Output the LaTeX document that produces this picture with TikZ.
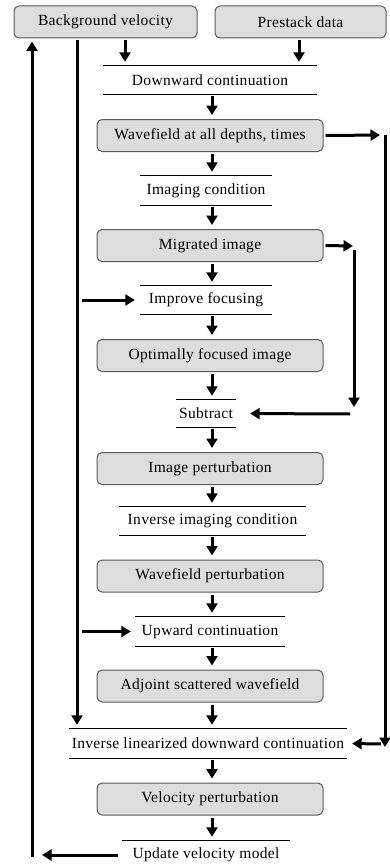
\documentclass[tikz,border=0pt]{standalone}
\usepackage{fontspec}
\setmainfont{Liberation Serif}[LetterSpace=2]
\usepackage{xcolor}
\usetikzlibrary{arrows.meta}
\definecolor{boxfill}{HTML}{DDDDDD}
\definecolor{boxline}{HTML}{5A5A5A}

\begin{document}
\begin{tikzpicture}[x=1pt, y=-1pt,
    font=\rmfamily\fontsize{15.5}{18}\selectfont,
    box/.style={rectangle, draw=boxline, fill=boxfill, line width=1pt, rounded corners=5pt, minimum width=226pt, minimum height=32pt, inner sep=0pt},
    stage/.style={rectangle, minimum height=28pt, inner sep=0pt},
    arrow/.style={line width=3pt, -{Triangle[length=9.5pt,width=11pt]}, shorten <=2pt, shorten >=4pt},
    rule/.style={line width=0.9pt}]
    \useasboundingbox (0,0) rectangle (389,867);

    % input boxes
    \node [box, minimum width=183pt] (bgvel) at (105.5,22) {Background velocity};
    \node [box, minimum width=171pt] (prestack) at (300.5,22) {Prestack data};

    % steps and results
    \node [stage, minimum width=214pt] (down) at (210,80) {Downward continuation};
    \node [box] (wfall) at (210,135.5) {Wavefield at all depths, times};
    \node [stage, minimum width=132pt, minimum height=29pt] (imcond) at (206,190.5) {Imaging condition};
    \node [box] (migimg) at (210,245.5) {Migrated image};
    \node [stage, minimum width=132pt] (impfoc) at (206,300) {Improve focusing};
    \node [box] (optimg) at (210,355.5) {Optimally focused image};
    \node [stage, minimum width=60pt, minimum height=27pt] (subtr) at (206,413.5) {Subtract};
    \node [box] (impert) at (210,468.5) {Image perturbation};
    \node [stage, minimum width=187pt] (invimg) at (212.5,521) {Inverse imaging condition};
    \node [box] (wfpert) at (210,576) {Wavefield perturbation};
    \node [stage, minimum width=150pt, minimum height=29pt] (upward) at (210,631.5) {Upward continuation};
    \node [box] (adjoint) at (210,686) {Adjoint scattered wavefield};
    \node [stage, minimum width=278pt, minimum height=29pt] (invlin) at (208,743.5) {Inverse linearized downward continuation};
    \node [box] (velpert) at (210,799) {Velocity perturbation};
    \node [stage, minimum width=168pt] (update) at (206,855) {Update velocity model};

    % rules above and below the steps
    \foreach \n in {down, imcond, impfoc, subtr, invimg, upward, invlin}
        \draw [rule] (\n.north west) -- (\n.north east) (\n.south west) -- (\n.south east);
    \draw [rule] (update.north west) -- (update.north east);

    \coordinate (ax) at (212,0);
    \coordinate (bx) at (125,0);
    \coordinate (px) at (299,0);
    \coordinate (l1) at (32,855);
    \coordinate (l2) at (77,0);
    \coordinate (r1) at (385,135);
    \coordinate (r2) at (385,744);
    \coordinate (m1) at (354,246);
    \coordinate (m2) at (354,414);

    % main chain
    \draw [arrow] (bgvel.south -| bx) -- (down.north -| bx);
    \draw [arrow] (prestack.south -| px) -- (down.north -| px);
    \foreach \a/\b in {down/wfall, wfall/imcond, imcond/migimg, migimg/impfoc, impfoc/optimg, optimg/subtr, subtr/impert, impert/invimg, invimg/wfpert, wfpert/upward, upward/adjoint, adjoint/invlin, invlin/velpert, velpert/update}
        \draw [arrow] (\a.south -| ax) -- (\b.north -| ax);

    % background velocity feeds
    \draw [arrow] (bgvel.south -| l2) -- (invlin.north -| l2);
    \draw [arrow, shorten <=5pt, shorten >=5pt] (impfoc.west -| l2) -- (impfoc.west);
    \draw [arrow, shorten <=5pt, shorten >=4pt] (upward.west -| l2) -- (upward.west);

    % update loop
    \draw [arrow, shorten <=4pt, shorten >=10pt] (update.west) -- (l1);
    \draw [arrow, shorten <=-2pt, shorten >=3pt] (l1) -- (bgvel.south -| l1);

    % wavefield to inverse linearized continuation
    \draw [arrow, shorten >=5pt] (wfall.east) -- (r1);
    \draw [arrow, shorten <=0pt, shorten >=-3pt] (r1) -- (r2);
    \draw [arrow, shorten <=4pt, shorten >=5pt] (r2) -- (invlin.east);

    % migrated image to subtract
    \draw [arrow, shorten >=1pt] (migimg.east) -- (m1);
    \draw [arrow, shorten <=4pt, shorten >=7pt] (m1) -- (m2);
    \draw [arrow, shorten <=4pt, shorten >=14pt] (m2) -- (subtr.east);
\end{tikzpicture}
\end{document}
